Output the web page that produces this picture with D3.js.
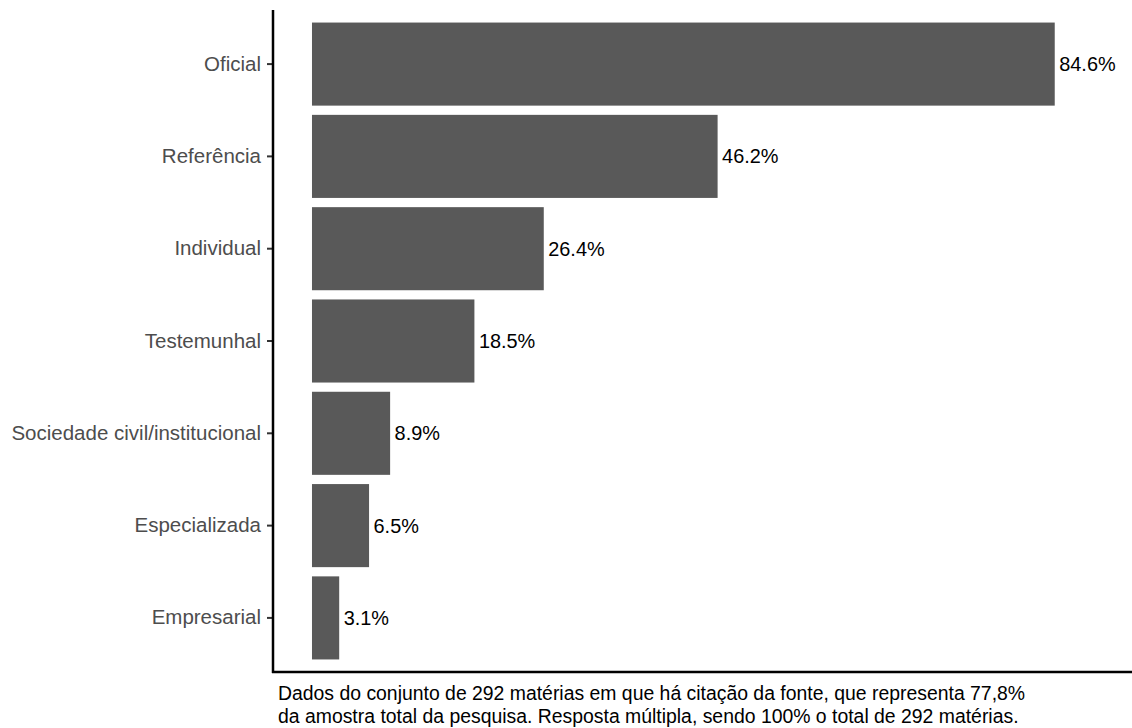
<!DOCTYPE html>
<html>
<head>
<meta charset="utf-8">
<script src="https://cdn.jsdelivr.net/npm/d3@7"></script>
<style>
  body { margin: 0; background: #fff; }
  text { font-family: "Liberation Sans", Arial, sans-serif; }
</style>
</head>
<body>
<div id="chart"></div>
<script>
    // data
    categories = ["Oficial", "Referência", "Individual", "Testemunhal",
                  "Sociedade civil/institucional", "Especializada", "Empresarial"]
    values = [84.6, 46.2, 26.4, 18.5, 8.9, 6.5, 3.1]
    caption = ["Dados do conjunto de 292 matérias em que há citação da fonte, que representa 77,8%",
               "da amostra total da pesquisa. Resposta múltipla, sendo 100% o total de 292 matérias."]

    canvas = ({width: 1132, height: 728})
    panel = ({left: 273, right: 1132, top: 10, bottom: 672})

    bar_col = "#595959"

    data = categories.map((c, i) => ({cat: c, val: values[i]}))

    x = d3.scaleLinear()
        .domain([-4.44, 93.4])
        .range([panel.left, panel.right])

    y = d3.scaleBand()
        .domain(categories)
        .range([panel.top, panel.bottom])
        .paddingInner(0.1)
        .paddingOuter(0.136)

    var svg = d3.select("#chart").append("svg")
        .attr("width", canvas.width)
        .attr("height", canvas.height)

    svg.append("g")
        .selectAll("rect")
        .data(data)
        .join("rect")
        .attr("x", x(0))
        .attr("y", d => y(d.cat))
        .attr("width", d => x(d.val) - x(0))
        .attr("height", y.bandwidth())
        .attr("fill", bar_col)

    svg.append("g")
        .selectAll("text")
        .data(data)
        .join("text")
        .attr("x", d => x(d.val) + 4.5)
        .attr("y", d => y(d.cat) + y.bandwidth() / 2)
        .attr("dy", "0.35em")
        .attr("font-size", "19.9px")
        .attr("fill", "#000")
        .text(d => d.val.toFixed(1) + "%")

    // y axis
    yAxis = g => g
        .attr("transform", `translate(${panel.left},0)`)
        .call(d3.axisLeft(y).tickSize(6).tickPadding(6).tickSizeOuter(0))
        .call(g => g.select(".domain").remove())
        .call(g => g.selectAll(".tick line").attr("stroke", "#333").attr("stroke-width", 2))
        .call(g => g.selectAll(".tick text")
            .attr("font-family", "Liberation Sans, Arial, sans-serif")
            .attr("font-size", "20.5px")
            .attr("fill", "#4d4d4d"))

    svg.append("g").call(yAxis)

    // axis lines
    svg.append("line")
        .attr("x1", panel.left).attr("x2", panel.left)
        .attr("y1", panel.top).attr("y2", panel.bottom + 1)
        .attr("stroke", "#000").attr("stroke-width", 2.5)
    svg.append("line")
        .attr("x1", panel.left - 1).attr("x2", panel.right)
        .attr("y1", panel.bottom).attr("y2", panel.bottom)
        .attr("stroke", "#000").attr("stroke-width", 2.5)

    // caption
    svg.append("g")
        .selectAll("text")
        .data(caption)
        .join("text")
        .attr("x", 278)
        .attr("y", (d, i) => 699.5 + i * 23.5)
        .attr("font-size", "19.4px")
        .attr("fill", "#000")
        .text(d => d)
</script>
</body>
</html>
